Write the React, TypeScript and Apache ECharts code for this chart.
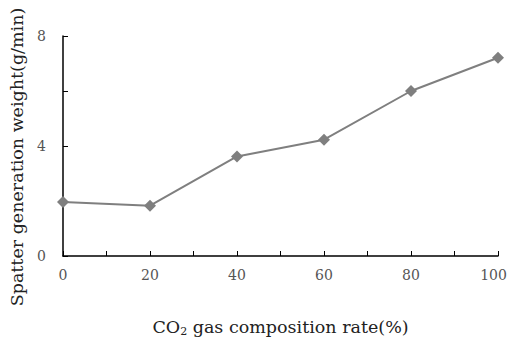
import React, { useEffect, useRef } from "react";
import * as echarts from "echarts";

const co2Rate = [0, 20, 40, 60, 80, 100];
const spatterWeight = [1.96, 1.83, 3.62, 4.23, 6.0, 7.21];
const xTickLabels = ["0", "20", "40", "60", "80", "100"];
const yTickLabels = ["0", "4", "8"];

const FONT = "'DejaVu Serif', 'Liberation Serif', serif";

export default function App() {
  const ref = useRef<HTMLDivElement>(null);
  useEffect(() => {
    if (!ref.current) return;
    const chart = echarts.init(ref.current, null, { renderer: "svg" });
    chart.setOption({
      animation: false,
      grid: { left: 63, top: 36, right: 11, bottom: 82, outerBoundsMode: "none" },
      xAxis: {
        type: "value",
        min: 0,
        max: 100,
        interval: 10,
        name: "{a|CO}{s|2}{a| gas composition rate(%)}",
        nameLocation: "middle",
        nameGap: 61,
        nameTextStyle: {
          rich: {
            a: { fontFamily: FONT, fontSize: 17.5, color: "#222" },
            s: { fontFamily: FONT, fontSize: 11, color: "#222", padding: [9, 0, 0, 0] },
          },
        },
        axisLine: { show: true, lineStyle: { color: "#000", width: 1.5 } },
        axisTick: { show: true, inside: true, length: 5, lineStyle: { color: "#000", width: 1 } },
        splitLine: { show: false },
        axisLabel: {
          margin: 12,
          fontFamily: FONT,
          fontSize: 14,
          color: "#555",
          formatter: (v: number) => {
            const s = String(v);
            if (!xTickLabels.includes(s)) return "";
            return s === "100" ? "{r|" + s + "}" : s;
          },
          rich: {
            r: { fontFamily: FONT, fontSize: 14, color: "#555", padding: [0, 9, 0, 0] },
          },
        },
      },
      yAxis: {
        type: "value",
        min: 0,
        max: 8,
        interval: 2,
        name: "Spatter generation weight(g/min)",
        nameLocation: "middle",
        nameGap: 35,
        nameRotate: 90,
        nameTextStyle: { fontFamily: FONT, fontSize: 17.5, color: "#222", padding: [0, 22, 0, 0] },
        axisLine: { show: true, lineStyle: { color: "#000", width: 1.5 } },
        axisTick: { show: true, inside: true, length: 5, lineStyle: { color: "#000", width: 1 } },
        splitLine: { show: false },
        axisLabel: {
          margin: 17,
          fontFamily: FONT,
          fontSize: 14,
          color: "#555",
          formatter: (v: number) => (yTickLabels.includes(String(v)) ? String(v) : ""),
        },
      },
      series: [
        {
          type: "line",
          data: co2Rate.map((x, i) => [x, spatterWeight[i]]),
          symbol: "diamond",
          symbolSize: 12,
          lineStyle: { color: "#7f7f7f", width: 2 },
          itemStyle: { color: "#7f7f7f" },
        },
      ],
    });
    return () => chart.dispose();
  }, []);
  return <div ref={ref} style={{ width: 509, height: 338, position: "absolute", left: 0, top: 0 }} />;
}
